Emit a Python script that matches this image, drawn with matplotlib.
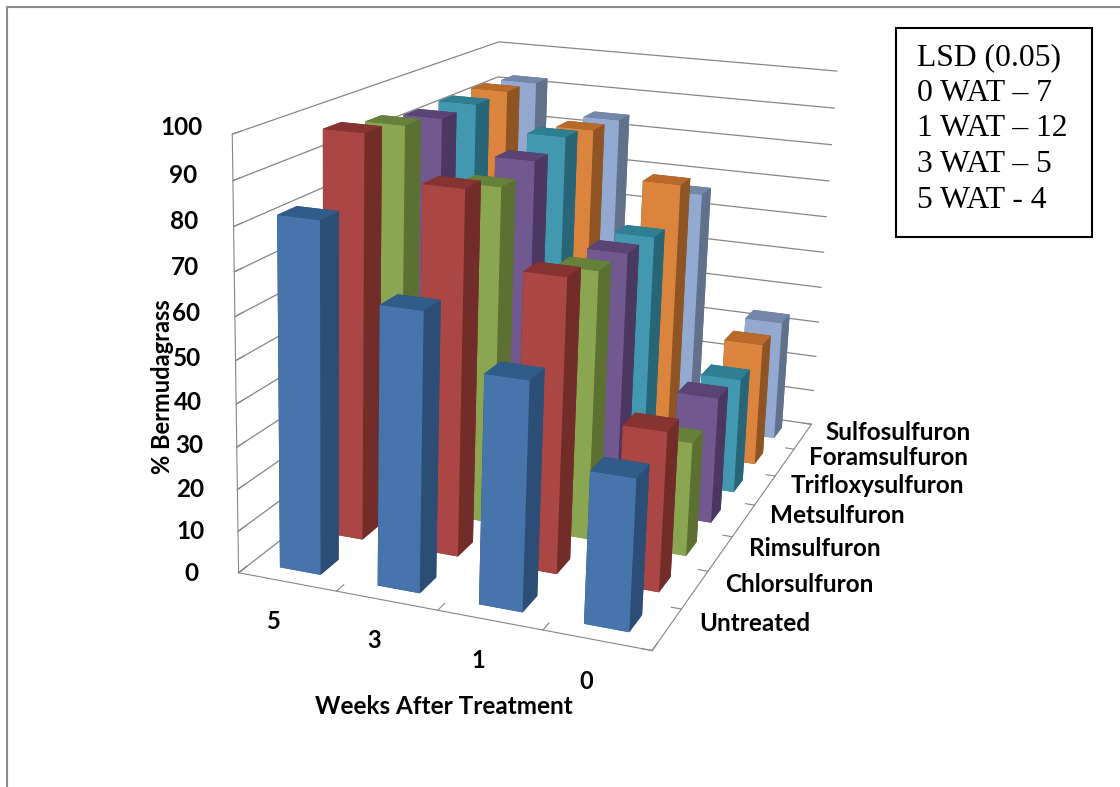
import numpy as np
import matplotlib
matplotlib.use('Agg')
import matplotlib.pyplot as plt

weeks = ['5', '3', '1', '0']
treatments = ['Untreated', 'Chlorsulfuron', 'Rimsulfuron', 'Metsulfuron',
              'Trifloxysulfuron', 'Foramsulfuron', 'Sulfosulfuron']
untreated = [82, 65, 53, 35]
chlorsulfuron = [97, 87, 70, 38]
rimsulfuron = [95, 83, 66, 28]
metsulfuron = [93, 85, 65, 32]
trifloxysulfuron = [93, 87, 64, 30]
foramsulfuron = [93, 85, 73, 33]
sulfosulfuron = [92, 84, 66, 33]
series = [untreated, chlorsulfuron, rimsulfuron, metsulfuron,
          trifloxysulfuron, foramsulfuron, sulfosulfuron]

front = ['#4674ab', '#aa4644', '#8aa650', '#71588f', '#4198af', '#db843d', '#93a9cf']
side = ['#2c4d75', '#722c2a', '#5c7032', '#4a3861', '#276577', '#8f5424', '#62718b']
top = ['#2f5c88', '#873331', '#66813a', '#5a4474', '#2f7f93', '#b86a2a', '#7387a8']

plt.rcParams['font.family'] = ['Lato', 'DejaVu Sans']

fig = plt.figure(figsize=(11.2, 7.87), dpi=100)
ax = fig.add_axes([-0.006, 0.105, 1, 1], projection='3d')
ax.set_proj_type('persp', focal_length=0.45)
ax.view_init(elev=16, azim=-71, roll=-2)
ax.set_box_aspect((1.33, 2.1, 1.37), zoom=1.04)

bw = 0.42
x, y, h, colors = [], [], [], []
for j, vals in enumerate(series):
    for i, v in enumerate(vals):
        x.append(i + 0.5 - bw / 2)
        y.append(j + 0.5 - bw / 2)
        h.append(v)
        # bar3d face order: bottom, top, front, back, left, right
        colors += [side[j], top[j], front[j], side[j], side[j], side[j]]
ax.bar3d(x, y, 0, bw, bw, h, color=colors, shade=False, edgecolor='none')

ax.set_xlim(0, 4)
ax.set_ylim(0, 7)
ax.set_zlim(0, 100)
# ticks sit between categories, labels in the middle
ax.set_xticks(np.arange(5))
ax.set_xticklabels([])
ax.set_xticks(np.arange(4) + 0.5, labels=weeks, minor=True, fontsize=17, fontweight='bold')
ax.set_yticks(np.arange(8))
ax.set_yticklabels([])
# slid along the axis a bit, labels hang lower than in the original otherwise
ax.set_yticks(np.arange(7) + 0.95, labels=treatments, minor=True, fontsize=17.5,
              fontweight='bold', ha='left', va='bottom')
ax.set_zticks(np.arange(0, 101, 10))
ax.set_zticklabels([str(v) for v in range(0, 101, 10)], fontsize=17.5, fontweight='bold',
                   va='bottom')
ax.tick_params(axis='x', which='minor', color=(1, 1, 1, 0), pad=4)
ax.tick_params(axis='y', which='minor', color=(1, 1, 1, 0), pad=6)
ax.tick_params(axis='z', which='major', pad=11)
ax.zaxis.set_ticks_position('lower')

for a in (ax.xaxis, ax.yaxis, ax.zaxis):
    a.set_pane_color((1, 1, 1, 0))
    a.pane.set_edgecolor('#868686')
    a.line.set_color('#868686')
    a._axinfo['grid']['color'] = '#868686'
    a._axinfo['grid']['linewidth'] = 0.9
    a._axinfo['tick']['inward_factor'] = 0
    a._axinfo['tick']['outward_factor'] = 0.3
    a.set_tick_params(which='major', color='#868686', width=1.2)
ax.xaxis._axinfo['grid']['color'] = (1, 1, 1, 0)
ax.yaxis._axinfo['grid']['color'] = (1, 1, 1, 0)

# axis titles placed on the figure, mplot3d pushes its own ones too far
fig.text(444 / 1120, 1 - 707 / 787, 'Weeks After Treatment', fontsize=17.5, fontweight='bold',
         ha='center', va='center')
fig.text(163 / 1120, 1 - 387 / 787, '% Bermudagrass', fontsize=17, fontweight='bold',
         rotation=90, ha='center', va='center')

# page border and the LSD box
fig.add_artist(plt.Line2D([0.006, 0.006, 1], [0, 0.991, 0.991], color='#8a8a8a', lw=1.5))
fig.add_artist(plt.Rectangle((0.8, 0.699), 0.175, 0.265, fill=False, ec='black', lw=1.5,
                             transform=fig.transFigure))
fig.text(0.819, 0.945, 'LSD (0.05)\n0 WAT – 7\n1 WAT – 12\n3 WAT – 5\n5 WAT - 4',
         family='Liberation Serif', fontsize=22.8, va='top', ha='left', linespacing=1.3)

fig.savefig('out.png', dpi=100)
